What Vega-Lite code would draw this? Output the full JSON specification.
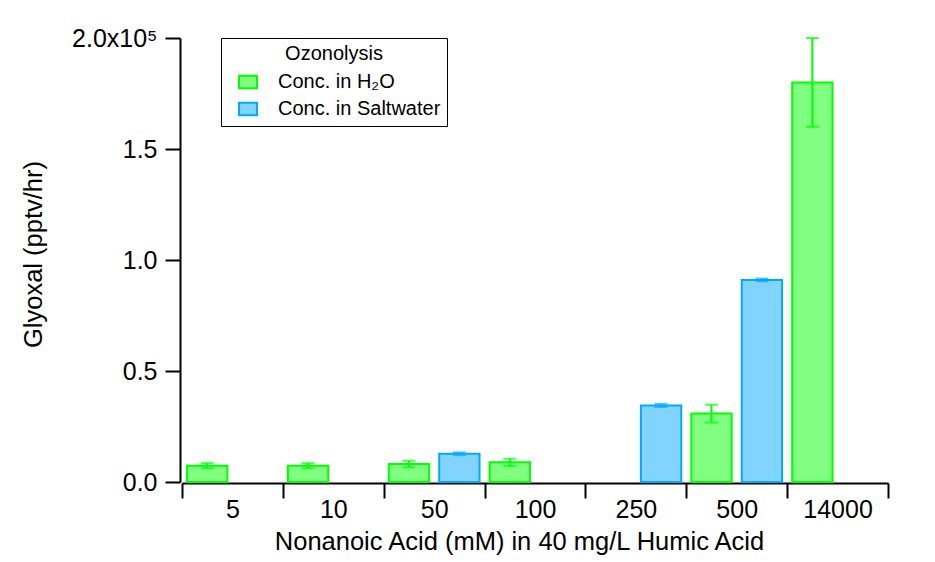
{
  "$schema": "https://vega.github.io/schema/vega-lite/v6.json",
  "autosize": "none",
  "width": 706,
  "height": 444,
  "padding": {"left": 182, "top": 38, "right": 47, "bottom": 80},
  "background": "white",
  "config": {
    "view": {"stroke": null},
    "font": "Liberation Sans",
    "axis": {
      "domainColor": "#000000",
      "domainWidth": 2,
      "tickColor": "#000000",
      "tickWidth": 2,
      "tickSize": 15,
      "labelColor": "#000000",
      "labelFontSize": 25,
      "titleColor": "#000000",
      "titleFontSize": 25.5,
      "titleFontWeight": "normal",
      "grid": false
    },
    "legend": {
      "title": "Ozonolysis",
      "orient": "none",
      "legendX": 39,
      "legendY": 0,
      "strokeColor": "#000000",
      "fillColor": "#ffffff",
      "padding": 6,
      "titleAnchor": "middle",
      "titleFontSize": 20,
      "titleFontWeight": "normal",
      "titleColor": "#000000",
      "titlePadding": 8,
      "labelFontSize": 20,
      "labelColor": "#000000",
      "labelLimit": 400,
      "labelOffset": 20,
      "rowPadding": 5,
      "symbolType": "M-1,-0.7H1V0.7H-1Z",
      "symbolSize": 324,
      "symbolStrokeWidth": 2,
      "symbolOffset": 11
    }
  },
  "data": {
    "values": [
      {"conc": "5", "series": "Conc. in H₂O", "value": 7300, "lo": 6200, "hi": 8500},
      {"conc": "10", "series": "Conc. in H₂O", "value": 7300, "lo": 6200, "hi": 8500},
      {"conc": "50", "series": "Conc. in H₂O", "value": 8100, "lo": 6600, "hi": 9600},
      {"conc": "50", "series": "Conc. in Saltwater", "value": 12700, "lo": 12100, "hi": 13300},
      {"conc": "100", "series": "Conc. in H₂O", "value": 8900, "lo": 7300, "hi": 10500},
      {"conc": "250", "series": "Conc. in Saltwater", "value": 34500, "lo": 33800, "hi": 35200},
      {"conc": "500", "series": "Conc. in H₂O", "value": 30800, "lo": 26800, "hi": 34800},
      {"conc": "500", "series": "Conc. in Saltwater", "value": 91000, "lo": 90400, "hi": 91600},
      {"conc": "14000", "series": "Conc. in H₂O", "value": 180000, "lo": 160000, "hi": 200000}
    ]
  },
  "encoding": {
    "x": {
      "field": "conc",
      "type": "nominal",
      "scale": {"domain": ["5", "10", "50", "100", "250", "500", "14000"], "paddingInner": 0, "paddingOuter": 0},
      "axis": {
        "title": "Nonanoic Acid (mM) in 40 mg/L Humic Acid",
        "labelAngle": 0,
        "tickBand": "extent",
        "offset": 1,
        "labelPadding": -1,
        "titlePadding": 7,
        "titleX": 337
      }
    },
    "xOffset": {
      "field": "series",
      "type": "nominal",
      "scale": {"domain": ["Conc. in H₂O", "Conc. in Saltwater"], "paddingInner": 0.2, "paddingOuter": 0.1}
    }
  },
  "layer": [
    {
      "mark": {"type": "bar", "strokeWidth": 2},
      "encoding": {
        "y": {
          "field": "value",
          "type": "quantitative",
          "scale": {"domain": [0, 200000], "nice": false},
          "axis": {
            "title": "Glyoxal (pptv/hr)",
            "values": [0, 50000, 100000, 150000, 200000],
            "labelExpr": "datum.value == 200000 ? '2.0x10⁵' : format(datum.value / 100000, '.1f')",
            "offset": 2,
            "labelPadding": 8,
            "titlePadding": 25,
            "titleY": 216
          }
        },
        "fill": {
          "field": "series",
          "type": "nominal",
          "scale": {"domain": ["Conc. in H₂O", "Conc. in Saltwater"], "range": ["#80ff80", "#80d4ff"]},
          "legend": {"title": "Ozonolysis"}
        },
        "stroke": {
          "field": "series",
          "type": "nominal",
          "scale": {"domain": ["Conc. in H₂O", "Conc. in Saltwater"], "range": ["#00ff00", "#00aaff"]},
          "legend": {"title": "Ozonolysis"}
        }
      }
    },
    {
      "mark": {"type": "rule", "strokeWidth": 2},
      "encoding": {
        "y": {"field": "lo", "type": "quantitative"},
        "y2": {"field": "hi"},
        "stroke": {"field": "series", "type": "nominal"}
      }
    },
    {
      "mark": {"type": "tick", "size": 13, "thickness": 2},
      "encoding": {
        "y": {"field": "lo", "type": "quantitative"},
        "color": {"field": "series", "type": "nominal", "scale": {"domain": ["Conc. in H₂O", "Conc. in Saltwater"], "range": ["#00ff00", "#00aaff"]}, "legend": null}
      }
    },
    {
      "mark": {"type": "tick", "size": 13, "thickness": 2},
      "encoding": {
        "y": {"field": "hi", "type": "quantitative"},
        "color": {"field": "series", "type": "nominal", "scale": {"domain": ["Conc. in H₂O", "Conc. in Saltwater"], "range": ["#00ff00", "#00aaff"]}, "legend": null}
      }
    }
  ]
}
